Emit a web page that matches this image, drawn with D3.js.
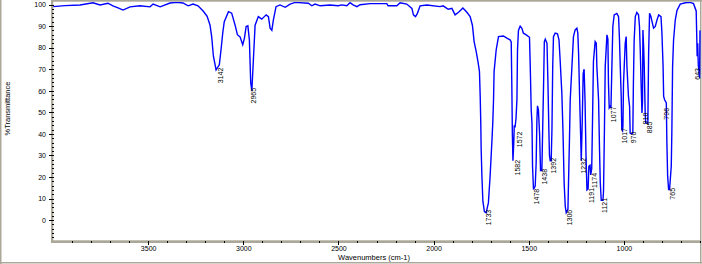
<!DOCTYPE html>
<html>
<head>
<meta charset="utf-8">
<title>IR spectrum</title>
<script src="https://cdn.jsdelivr.net/npm/d3@7"></script>
<style>
body { margin:0; background:#fff; }
svg { display:block; }
text { font-family: "Liberation Sans", Arial, sans-serif; font-size: 7px; fill:#000; }
.axis path.domain { display:none; }
.axis line { stroke:#000; shape-rendering:crispEdges; }
</style>
</head>
<body>
<svg id="svg" width="702" height="264"></svg>
<script>
// spectrum (cm-1, %T)
var wavenumber = [4000,3937,3858,3790,3753,3711,3685,3658,3632,3595,3543,3490,3474,3437,3385,3348,3317,3290,3264,3238,
  3211,3190,3175,3166,3157,3143,3126,3117,3108,3100,3078,3061,3043,3031,3017,3003,2994,2985,2976,2968,
  2961,2955,2947,2938,2921,2903,2880,2868,2859,2850,2842,2828,2807,2780,2754,2728,2658,2640,2623,2596,
  2544,2502,2482,2456,2439,2423,2403,2386,2334,2246,2239,2193,2176,2141,2114,2106,2095,2085,2071,2035,
  1966,1950,1923,1904,1887,1869,1846,1825,1808,1796,1787,1776,1767,1759,1755,1752,1750,1746,1741,1733,
  1724,1712,1703,1694,1689,1685,1682,1671,1659,1633,1615,1598,1592,1589,1586,1583,1579,1576,1572,1567,
  1562,1559,1554,1545,1536,1528,1513,1496,1492,1487,1483,1480,1475,1466,1461,1457,1454,1449,1443,1438,
  1431,1426,1422,1418,1413,1404,1399,1394,1391,1387,1382,1378,1374,1370,1361,1349,1341,1335,1326,1320,
  1314,1308,1303,1294,1291,1286,1282,1273,1265,1256,1247,1242,1238,1232,1226,1224,1219,1214,1209,1204,
  1199,1194,1188,1184,1178,1174,1169,1165,1160,1151,1145,1142,1133,1128,1124,1119,1110,1107,1102,1098,
  1089,1084,1081,1077,1072,1068,1063,1058,1051,1037,1028,1023,1019,1014,1011,1007,1005,1002,993,988,
  984,976,970,967,960,953,950,946,940,932,923,918,914,909,905,902,900,896,893,888,
  885,879,874,870,865,858,852,844,835,826,817,805,800,794,791,786,777,774,770,765,
  760,751,748,744,739,730,721,704,677,651,634,620,617,615,612,609,605,602,600];
var transmittance = [99.0,99.5,99.8,100.8,99.8,100.6,99.4,98.4,97.4,98.9,99.4,98.9,100.2,98.9,100.7,101.0,100.7,99.4,100.2,99.4,
  97.0,94.5,90.5,85.0,76.0,69.7,72.0,79.0,86.8,92.0,96.7,96.0,90.4,86.0,85.0,81.3,84.4,89.8,90.1,83.6,
  63.6,60.0,74.3,90.4,94.4,93.2,95.2,94.4,89.0,88.0,92.8,99.0,99.8,98.7,100.2,101.0,100.6,99.4,100.2,99.4,
  99.8,99.4,99.8,99.4,100.8,99.8,99.0,99.9,100.4,100.4,99.4,99.4,100.8,100.2,98.2,95.2,94.4,95.9,99.4,99.8,
  99.0,99.4,97.8,98.2,95.2,96.4,98.4,96.4,94.4,90.4,82.8,78.2,73.6,69.0,57.4,45.0,33.0,20.4,8.8,4.0,
  3.4,8.0,20.4,35.8,45.0,55.8,69.0,79.0,85.1,85.4,84.4,83.6,82.6,63.6,40.0,27.5,35.0,44.0,43.0,47.0,
  56.0,79.0,88.0,90.0,89.0,86.7,85.9,84.8,71.3,51.2,45.0,25.0,14.2,15.8,26.6,46.6,53.0,51.0,40.0,23.0,
  23.0,45.4,63.0,82.8,83.9,82.0,63.4,41.0,30.0,27.5,27.5,42.0,71.3,85.1,86.7,86.4,83.6,74.3,58.9,41.0,
  17.3,6.4,3.4,5.0,17.3,37.3,55.8,71.3,85.1,88.2,89.0,86.7,77.4,55.0,35.0,27.5,45.0,68.0,70.0,55.0,
  30.0,14.0,14.5,25.0,25.5,21.0,24.0,45.0,73.6,82.8,82.0,71.3,55.8,32.7,17.3,9.2,9.2,13.4,43.4,71.3,
  85.9,84.0,63.4,52.0,52.7,52.0,71.3,89.8,95.2,95.9,94.4,83.4,71.3,57.4,42.0,41.4,43.4,63.4,82.0,85.1,
  71.3,57.4,52.7,40.4,40.0,40.4,63.4,83.4,94.4,96.3,95.2,89.8,79.0,62.0,49.7,55.0,88.2,80.0,71.3,49.4,
  45.0,45.0,45.0,77.4,95.9,94.4,92.1,89.0,89.8,92.8,95.2,94.4,86.7,71.3,57.4,55.8,54.4,35.8,20.4,14.2,
  14.2,25.0,40.4,71.3,83.4,92.8,97.2,100.2,100.8,101.0,100.4,97.0,85.0,76.0,82.0,72.0,69.0,66.0,88.0];

// peak labels
var peakLabels = ["3142","2965","1733","1582","1572","1478","1438","1392","1306","1232","1191","1174","1121","1077","1017","970","910","885","796","765","643"];
var peakWn     = [3142, 2965, 1733, 1582, 1572, 1478, 1438, 1392, 1306, 1232, 1191, 1174, 1121, 1077, 1017, 970, 910, 885, 796, 765, 605];
var peakT      = [69.8, 60.4, 3.9, 27.0, 40.1, 13.6, 22.8, 27.9, 3.9, 27.9, 14.0, 21.0, 9.4, 51.7, 41.8, 40.1, 48.9, 44.8, 51.1, 14.0, 69.6];

var xTicks = [3500, 3000, 2500, 2000, 1500, 1000];
var xMinor = d3.range(3900, 599, -100);
var yTicks = [0, 10, 20, 30, 40, 50, 60, 70, 80, 90, 100];
var yMinor = d3.range(-8, 101, 2);

var frameGray = "#aca899";
var svg = d3.select("#svg");

var x = d3.scaleLinear().domain([4000, 600]).range([53, 700]);
var y = d3.scaleLinear().domain([-10, 100]).range([241.7, 4.5]);

// frame
svg.append("rect").attr("x", 0).attr("y", 0).attr("width", 1.5).attr("height", 264).attr("fill", frameGray);
svg.append("rect").attr("x", 0).attr("y", 262).attr("width", 702).attr("height", 1.5).attr("fill", frameGray);
svg.append("rect").attr("x", 700).attr("y", 0).attr("width", 1.5).attr("height", 263.5).attr("fill", frameGray);
svg.append("rect").attr("x", 51).attr("y", 0).attr("width", 651).attr("height", 1.7).attr("fill", frameGray);
svg.append("rect").attr("x", 51).attr("y", 0).attr("width", 2.3).attr("height", 243).attr("fill", frameGray);
svg.append("rect").attr("x", 51).attr("y", 240.3).attr("width", 650).attr("height", 2.7).attr("fill", frameGray);

// axes
svg.append("g").attr("class", "axis").attr("transform", "translate(54,0)")
  .call(d3.axisLeft(y).tickValues(yMinor).tickSize(2.5).tickFormat(""));
svg.append("g").attr("class", "axis").attr("transform", "translate(54,0)")
  .call(d3.axisLeft(y).tickValues(yTicks).tickSize(5).tickPadding(3).tickFormat(d3.format("d")))
  .selectAll("text").style("font-size", "7px");

svg.append("g").attr("class", "axis").attr("transform", "translate(0,240.5)")
  .call(d3.axisBottom(x).tickValues(xMinor).tickSize(2).tickFormat(""));
svg.append("g").attr("class", "axis").attr("transform", "translate(0,240.5)")
  .call(d3.axisBottom(x).tickValues(xTicks).tickSize(4.5).tickPadding(1).tickFormat(d3.format("d")))
  .selectAll("text").style("font-size", "7px");

// titles
svg.append("text").attr("x", 374).attr("y", 260).attr("text-anchor", "middle")
  .style("font-size", "7.5px").text("Wavenumbers (cm-1)");
svg.append("text").attr("transform", "translate(9.5,108.5) rotate(-90)").attr("text-anchor", "middle")
  .style("font-size", "7.5px").text("%Transmittance");

// spectrum
svg.append("clipPath").attr("id", "plotclip").append("rect")
  .attr("x", 53.3).attr("y", 1.7).attr("width", 649).attr("height", 238.6);

var pts = d3.zip(wavenumber, transmittance);
var line = d3.line().x(function(d){ return x(d[0]); }).y(function(d){ return y(d[1]); });
svg.append("path").datum(pts)
  .attr("clip-path", "url(#plotclip)")
  .attr("fill", "none").attr("stroke", "#0000ff").attr("stroke-width", 1.4)
  .attr("stroke-linejoin", "miter")
  .attr("d", line);

// peak labels, vertical (kept inside the right edge)
svg.selectAll("text.peak").data(d3.range(peakLabels.length)).enter().append("text")
  .attr("class", "peak")
  .attr("text-anchor", "end")
  .attr("transform", function(i){
    var px = Math.min(x(peakWn[i]) + 6.5, 700);
    return "translate(" + px + "," + (y(peakT[i]) - 2) + ") rotate(-90)";
  })
  .text(function(i){ return peakLabels[i]; });
</script>
</body>
</html>
